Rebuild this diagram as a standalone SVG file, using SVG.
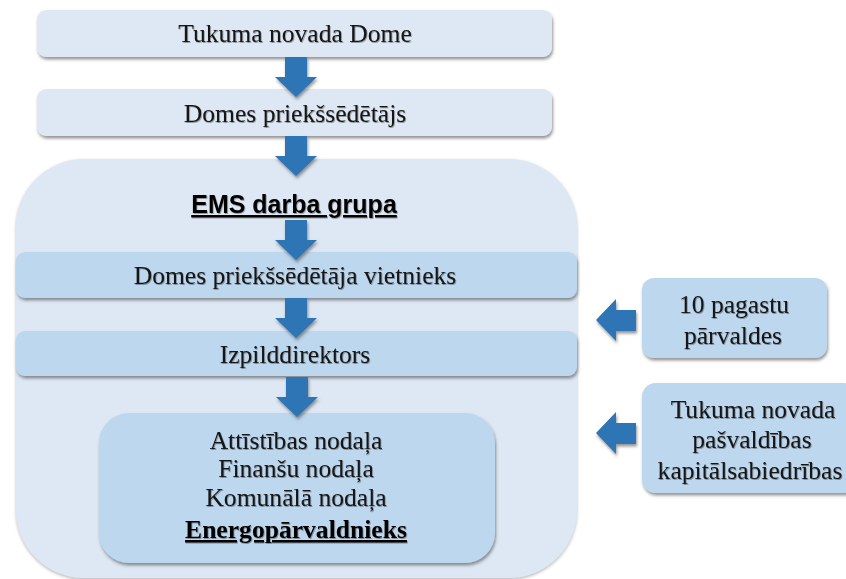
<svg xmlns="http://www.w3.org/2000/svg" width="846" height="579" viewBox="0 0 846 579">
<defs>
<filter id="sh" x="-10%" y="-20%" width="120%" height="150%">
<feDropShadow dx="1" dy="2.5" stdDeviation="1.5" flood-color="#404040" flood-opacity="0.55"/>
</filter>
<filter id="csh" x="-5%" y="-5%" width="110%" height="110%">
<feDropShadow dx="0" dy="1.5" stdDeviation="1.5" flood-color="#606060" flood-opacity="0.45"/>
</filter>
<filter id="ts" x="-5%" y="-20%" width="110%" height="150%">
<feDropShadow dx="0.8" dy="1" stdDeviation="0.7" flood-color="#303030" flood-opacity="0.45"/>
</filter>
<style>
.light{fill:#dde8f4;filter:url(#sh)}
.cont{fill:#dde8f4;filter:url(#csh)}
.mid{fill:#bdd7ee;filter:url(#sh)}
text{font-family:"Liberation Serif","Times New Roman",serif;font-size:25.6px;fill:#141414;text-anchor:middle;filter:url(#ts)}
text.b{font-family:"Liberation Sans",Arial,sans-serif;font-size:25px;font-weight:bold;fill:#000;text-decoration:underline}
text.bs{font-weight:bold;fill:#000;text-decoration:underline}
.arr{fill:#2e74b5;filter:url(#sh)}
</style>
</defs>
<rect width="846" height="579" fill="#ffffff"/>
<g id="dome">
<rect class="light" x="37" y="10" width="515" height="47" rx="9"/>
<text x="295" y="42">Tukuma novada Dome</text>
</g>
<g id="priekssedetajs">
<rect class="light" x="37" y="89" width="515" height="47" rx="9"/>
<text x="295" y="122">Domes priekšsēdētājs</text>
</g>
<g id="ems">
<rect class="cont" x="16" y="159" width="561" height="419" rx="68"/>
<text class="b" x="294" y="213">EMS darba grupa</text>
</g>
<g id="vietnieks">
<rect class="mid" x="16" y="252" width="561" height="46" rx="9"/>
<text x="295" y="284">Domes priekšsēdētāja vietnieks</text>
</g>
<g id="izpilddirektors">
<rect class="mid" x="16" y="331" width="561" height="45" rx="9"/>
<text x="295" y="363">Izpilddirektors</text>
</g>
<g id="nodalas">
<rect class="mid" x="99" y="413" width="396" height="150" rx="30"/>
<text x="296" y="449">Attīstības nodaļa</text>
<text x="296" y="477">Finanšu nodaļa</text>
<text x="296" y="506">Komunālā nodaļa</text>
<text class="bs" x="296" y="538">Energopārvaldnieks</text>
</g>
<g id="pagasti">
<rect class="mid" x="642" y="278" width="185" height="80" rx="12"/>
<text x="734" y="313">10 pagastu</text>
<text x="733" y="344">pārvaldes</text>
</g>
<g id="kapitalsabiedribas">
<rect class="mid" x="642" y="383" width="216" height="110" rx="14"/>
<text x="753" y="418">Tukuma novada</text>
<text x="752" y="448">pašvaldības</text>
<text x="750" y="479">kapitālsabiedrības</text>
</g>
<g id="connectors">
<polygon class="arr" points="285,57 307,57 307,77 317,77 296,97 275,77 285,77"/>
<polygon class="arr" points="285,136 307,136 307,156 317,156 296,176 275,156 285,156"/>
<polygon class="arr" points="285,220 307,220 307,240 317,240 296,260 275,240 285,240"/>
<polygon class="arr" points="285,298 307,298 307,318 317,318 296,338 275,318 285,318"/>
<polygon class="arr" points="286,377 308,377 308,397 318,397 297,417 276,397 286,397"/>
<polygon class="arr" points="636,310 616,310 616,299 596,320 616,341 616,331 636,331"/>
<polygon class="arr" points="636,423 616,423 616,412 596,433 616,454 616,444 636,444"/>
</g>
</svg>
